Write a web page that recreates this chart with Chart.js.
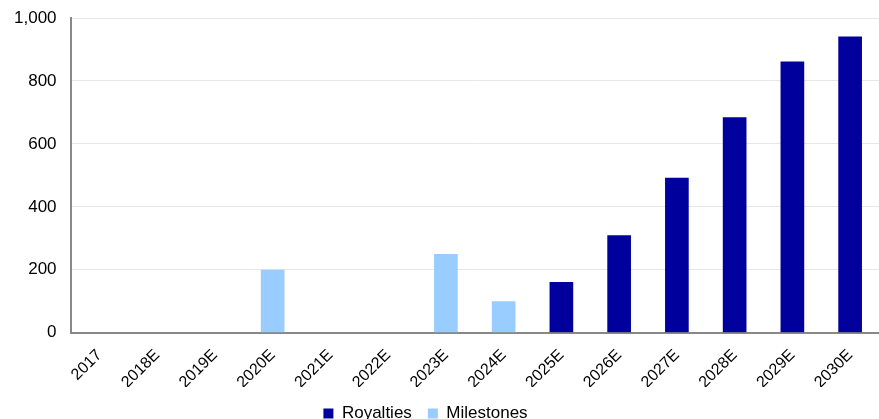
<!DOCTYPE html>
<html>
<head>
<meta charset="utf-8">
<script src="https://cdn.jsdelivr.net/npm/chart.js@4.4.1/dist/chart.umd.min.js"></script>
<style>
  html, body { margin: 0; padding: 0; background: #ffffff; }
  #wrap { position: relative; width: 879px; height: 419px; }
</style>
</head>
<body>
<div id="wrap"><canvas id="chart"></canvas></div>
<script>
// Revenue build-up by year
const years = ['2017', '2018E', '2019E', '2020E', '2021E', '2022E', '2023E',
               '2024E', '2025E', '2026E', '2027E', '2028E', '2029E', '2030E'];
const royalties  = [0, 0, 0, 0, 0, 0, 0, 0, 161, 310, 492, 685, 862, 941];
const milestones = [0, 0, 0, 200, 0, 0, 250, 100, 0, 0, 0, 0, 0, 0];
const yTicks = [0, 200, 400, 600, 800, 1000];

const FONT = '"Liberation Sans", Arial, sans-serif';

// place the legend slightly left of centre and close to the bottom edge
const legendShift = {
  id: 'legendShift',
  afterLayout(chart) {
    const lg = chart.legend;
    if (lg) {
      lg.left -= 14; lg.right -= 14;
      lg.top += 2; lg.bottom += 2;
    }
  }
};

new Chart(document.getElementById('chart'), {
  type: 'bar',
  data: {
    labels: years,
    datasets: [
      { label: 'Royalties', data: royalties, backgroundColor: '#00009c',
        borderWidth: 0, barPercentage: 0.41, categoryPercentage: 1 },
      { label: 'Milestones', data: milestones, backgroundColor: '#99ccff',
        borderWidth: 0, barPercentage: 0.41, categoryPercentage: 1 }
    ]
  },
  options: {
    responsive: true,
    maintainAspectRatio: false,
    animation: false,
    layout: { padding: 0 },
    plugins: {
      legend: {
        position: 'bottom',
        maxHeight: 32,
        labels: {
          boxWidth: 10, boxHeight: 10, padding: 16,
          color: '#000', font: { family: FONT, size: 17 }
        }
      },
      tooltip: { enabled: false }
    },
    scales: {
      x: {
        stacked: true,
        grid: { display: false, drawTicks: false },
        border: { color: '#888888', width: 2 },
        afterFit: (s) => { s.height -= 18; },
        ticks: {
          color: '#000', font: { family: FONT, size: 16 },
          maxRotation: 45, minRotation: 45, padding: 13, autoSkip: false
        }
      },
      y: {
        stacked: true,
        min: 0, max: 1000,
        afterBuildTicks: (axis) => { axis.ticks = yTicks.map(v => ({ value: v })); },
        afterFit: (s) => { s.paddingTop = 18; },
        grid: { color: '#e6e6e6', lineWidth: 1, drawTicks: false },
        border: { color: '#888888', width: 2 },
        ticks: {
          color: '#000', font: { family: FONT, size: 17 }, padding: 14,
          callback: (v) => v.toLocaleString('en-US')
        }
      }
    }
  },
  plugins: [legendShift]
});
</script>
</body>
</html>
